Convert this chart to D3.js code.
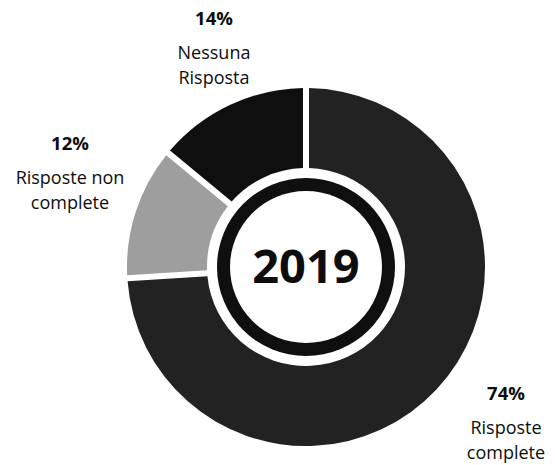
<!DOCTYPE html>
<html>
<head>
<meta charset="utf-8">
<script src="https://cdn.jsdelivr.net/npm/d3@7"></script>
<style>
  html, body { margin: 0; padding: 0; background: #fff; }
  svg { display: block; }
  text { font-family: "Open Sans", "Noto Sans", sans-serif; fill: #0d0d0d; }
</style>
</head>
<body>
<svg id="chart" width="555" height="465"></svg>
<script>
// Survey responses, 2019
const categories = ["Risposte complete", "Risposte non complete", "Nessuna Risposta"];
const values = [74, 12, 14];
const labelLines = [["Risposte", "complete"], ["Risposte non", "complete"], ["Nessuna", "Risposta"]];
const colors = ["#222222", "#9e9e9e", "#0f0f0f"];
const yearLabel = "2019";

const width = 555, height = 465;
const cx = 306, cy = 267;
const outerR = 179, innerR = 99;

const svg = d3.select("#chart");
const g = svg.append("g").attr("transform", `translate(${cx},${cy})`);

const pie = d3.pie().sort(null).value(d => d)(values);
const arc = d3.arc()
  .innerRadius(innerR)
  .outerRadius(outerR)
  .padAngle(0.06)
  .padRadius(100);

g.selectAll("path.slice")
  .data(pie)
  .join("path")
  .attr("class", "slice")
  .attr("d", arc)
  .attr("fill", (d, i) => colors[i]);

// Centre badge: black ring around the year
g.append("circle").attr("r", 89).attr("fill", "#0f0f0f");
g.append("circle").attr("r", 76).attr("fill", "#fff");
g.append("text")
  .attr("text-anchor", "middle")
  .attr("y", 16)
  .style("font-size", "47px")
  .style("font-weight", "700")
  .text(yearLabel);

// Outside labels: percentage over the category name
const labelPos = [
  { x: 506, y: 400 },
  { x: 70, y: 150 },
  { x: 214, y: 25 }
];

const labels = svg.selectAll("g.label")
  .data(pie)
  .join("g")
  .attr("class", "label")
  .attr("transform", (d, i) => `translate(${labelPos[i].x},${labelPos[i].y})`);

labels.append("text")
  .attr("text-anchor", "middle")
  .style("font-size", "18.5px")
  .style("font-weight", "700")
  .text(d => d.data + "%");

labels.each(function (d, i) {
  const t = d3.select(this).append("text")
    .attr("text-anchor", "middle")
    .style("font-size", "18px");
  labelLines[i].forEach((line, k) => {
    t.append("tspan").attr("x", 0).attr("y", 34 + k * 25).text(line);
  });
});
</script>
</body>
</html>
